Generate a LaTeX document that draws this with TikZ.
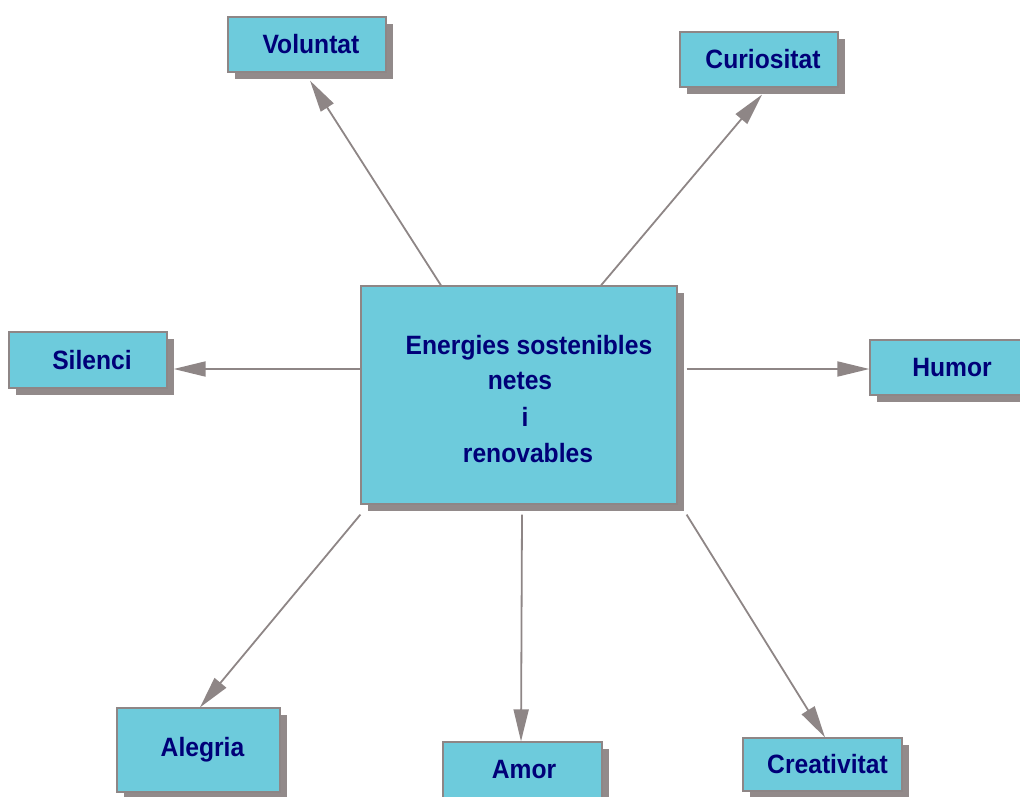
\documentclass[tikz,border=0pt]{standalone}
\usepackage{fontspec}
\newfontfamily\labelfont[FakeStretch=0.93]{Liberation Sans}
\usetikzlibrary{arrows.meta,shadows}
\definecolor{boxfill}{RGB}{109,203,220}
\definecolor{edgegray}{RGB}{142,134,134}
\definecolor{shadowgray}{RGB}{146,138,138}
\definecolor{labelnavy}{RGB}{0,0,120}
\tikzset{
  ideabox/.style={draw=edgegray, line width=1.2pt, fill=boxfill,
    general shadow={fill=shadowgray, shadow xshift=7pt, shadow yshift=-7pt},
    font=\labelfont\bfseries\fontsize{26.5}{30}\selectfont, text=labelnavy,
    inner sep=0pt},
  centerline/.style={anchor=base, font=\labelfont\bfseries\fontsize{26.5}{30}\selectfont, text=labelnavy, inner sep=0pt},
  link/.style={draw=edgegray, line width=1.8pt,
    -{Triangle[length=32pt, width=15pt]}},
}
\begin{document}
\begin{tikzpicture}[x=1pt, y=-1pt]
\useasboundingbox (0,0) rectangle (1020,797);

% central topic
\node[ideabox, minimum width=316pt, minimum height=218pt] (core) at (519,395) {};
\node[centerline] (l1) at (529,354) {Energies sostenibles};
\node[centerline] (l2) at (520,389) {netes};
\node[centerline] (l3) at (525,426) {i};
\node[centerline] (l4) at (528,462) {renovables};

% surrounding values
\node[ideabox, minimum width=158pt, minimum height=55pt] (vol) at (307,44.5) {\hspace*{8pt}Voluntat};
\node[ideabox, minimum width=158pt, minimum height=55pt] (cur) at (759,59.5) {\hspace*{8pt}Curiositat};
\node[ideabox, minimum width=158pt, minimum height=56pt] (sil) at (88,360) {\hspace*{8pt}Silenci};
\node[ideabox, minimum width=158pt, minimum height=55pt] (hum) at (949,367.5) {\hspace*{6pt}Humor};
\node[ideabox, minimum width=163pt, minimum height=84pt] (ale) at (198.5,750) {\hspace*{8pt}Alegria};
\node[ideabox, minimum width=159pt, minimum height=56pt] (amo) at (522.5,770) {\hspace*{3pt}Amor};
\node[ideabox, minimum width=159pt, minimum height=53pt] (cre) at (822.5,764.5) {\hspace*{10pt}Creativitat};

% connectors from the central topic
\draw[link] ([xshift=-78pt]core.north) -- ([xshift=3pt,yshift=-8pt]vol.south);
\draw[link] ([xshift=82pt]core.north) -- ([xshift=3pt,yshift=-7pt]cur.south);
\draw[link] ([yshift=26pt]core.west) -- ([xshift=6pt,yshift=-9pt]sil.east);
\draw[link] ([xshift=9pt,yshift=26pt]core.east) -- ([yshift=-1.5pt]hum.west);
\draw[link] ([yshift=-10pt]core.south west) -- ([xshift=1.5pt]ale.north);
\draw[link] ([xshift=3pt,yshift=-10pt]core.south) -- ([xshift=-1.5pt]amo.north);
\draw[link] ([xshift=9pt,yshift=-10pt]core.south east) -- ([xshift=2.5pt]cre.north);
\end{tikzpicture}
\end{document}
